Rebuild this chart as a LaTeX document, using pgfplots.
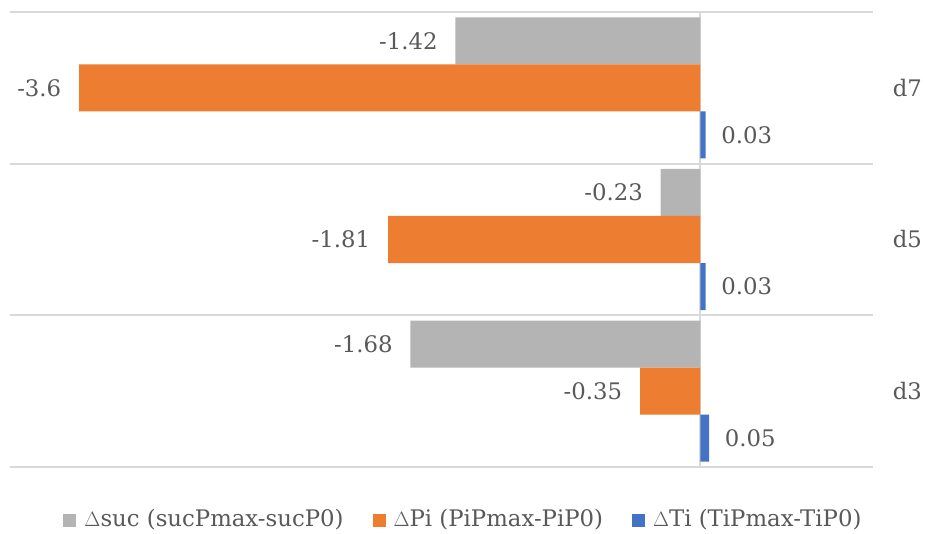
\documentclass[border=0pt]{standalone}
\usepackage{pgfplots}
\pgfplotsset{compat=1.18}
\usepackage{fontspec}
\setmainfont{DejaVu Serif}
\definecolor{cgray}{HTML}{B4B4B4}
\definecolor{corange}{HTML}{ED7D31}
\definecolor{cblue}{HTML}{4472C4}
\definecolor{ctext}{HTML}{595959}
\definecolor{cgrid}{HTML}{D9D9D9}
\begin{document}
\fontsize{22.8}{27}\selectfont
\begin{tikzpicture}
\useasboundingbox (0,0) rectangle (925pt,534pt);
\begin{axis}[
  at={(10pt,67pt)}, anchor=south west,
  width=863pt, height=455pt, scale only axis,
  xbar, bar width=0.31,
  xmin=-4, xmax=1, ymin=-0.5, ymax=2.5,
  ytick={0,1,2}, yticklabels={d3,d5,d7},
  yticklabel pos=right,
  yticklabel style={anchor=west, xshift=12pt, text=ctext},
  xtick={0}, xticklabels={},
  minor ytick={-0.5,0.5,1.5,2.5},
  yminorgrids=true, ymajorgrids=false, xmajorgrids=true,
  minor grid style={cgrid, line width=1.8pt},
  major grid style={cgrid, line width=2pt},
  major tick length=0pt, minor tick length=0pt,
  axis line style={draw=none},
  point meta=explicit symbolic,
  nodes near coords,
  legend style={at={(0.526,-0.1165)}, anchor=center, legend columns=3, draw=none,
    text=ctext, /tikz/every even column/.append style={column sep=26pt},
    /tikz/every odd column/.append style={column sep=5pt},
    nodes={inner sep=3pt}},
  legend image code/.code={\fill[#1] (0pt,-6.5pt) rectangle (13pt,6.5pt);},
]
\addplot[fill=cgray, draw=none, bar shift=0.31,
  every node near coord/.append style={anchor=east, xshift=-10pt, text=ctext}]
  table[x=x, y=y, meta=lab] {
x y lab
-1.68 0 -1.68
-0.23 1 -0.23
-1.42 2 -1.42
};
\addlegendentry{$\Delta$suc (sucPmax-sucP0)}
\addplot[fill=corange, draw=none, bar shift=0,
  every node near coord/.append style={anchor=east, xshift=-10pt, text=ctext}]
  table[x=x, y=y, meta=lab] {
x y lab
-0.35 0 -0.35
-1.81 1 -1.81
-3.6 2 -3.6
};
\addlegendentry{$\Delta$Pi (PiPmax-PiP0)}
\addplot[fill=cblue, draw=none, bar shift=-0.31,
  every node near coord/.append style={anchor=west, xshift=8pt, text=ctext}]
  table[x=x, y=y, meta=lab] {
x y lab
0.05 0 0.05
0.03 1 0.03
0.03 2 0.03
};
\addlegendentry{$\Delta$Ti (TiPmax-TiP0)}
\end{axis}
\end{tikzpicture}
\end{document}
